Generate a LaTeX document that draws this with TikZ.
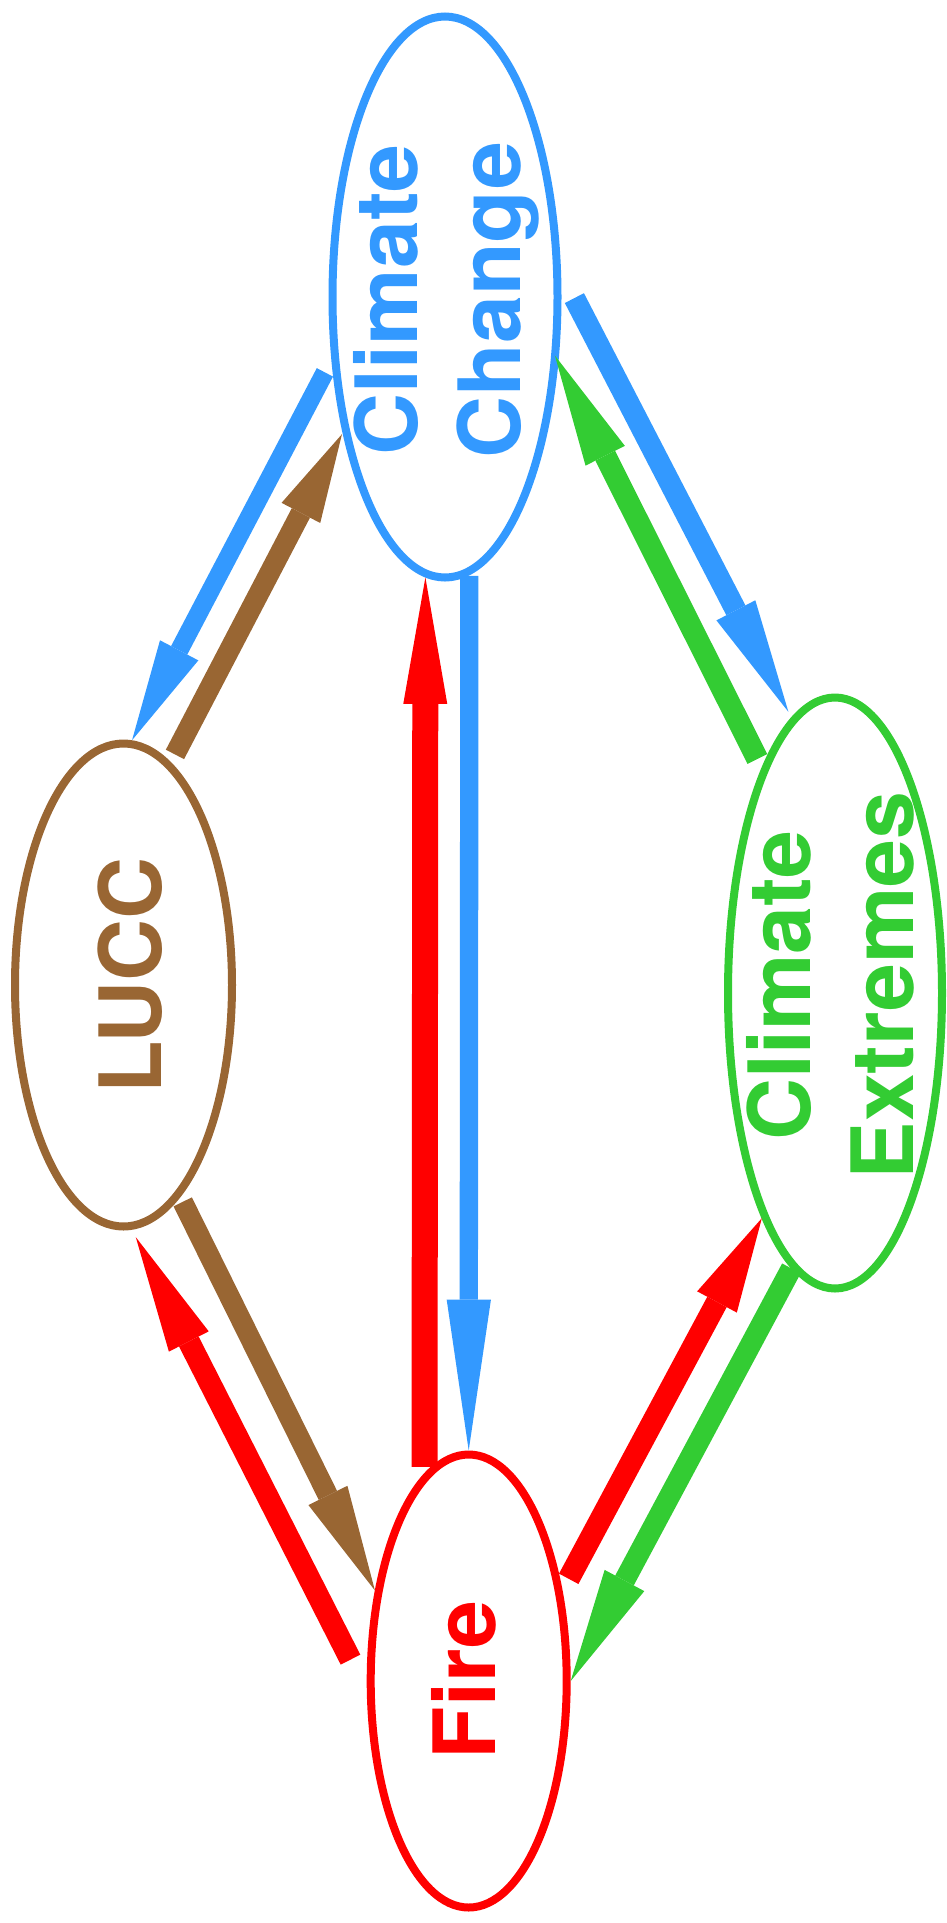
\documentclass[tikz,border=0pt]{standalone}
\usepackage{fontspec}
\setmainfont{TeX Gyre Heros}
\usetikzlibrary{shapes.geometric, arrows.meta}
\definecolor{ccblue}{HTML}{3399FF}
\definecolor{luccbrown}{HTML}{996633}
\definecolor{cegreen}{HTML}{33CC33}
\definecolor{firered}{HTML}{FF0000}
\tikzset{
  oval/.style={ellipse, draw, line width=8pt, inner sep=0pt},
  lbl/.style={rotate=90, align=center, inner sep=0pt,
    font=\fontsize{86pt}{103pt}\selectfont\bfseries},
  % shaft width, head length, head width
  flow/.style n args={3}{line width=#1,
    -{Triangle[length=#2, width=#3, line width=0pt]}},
}
\begin{document}
\begin{tikzpicture}[x=1pt, y=-1pt]
\useasboundingbox (0,0) rectangle (946,1923);

% the four ovals
\node[oval, draw=ccblue,    minimum width=225pt, minimum height=561pt] (cc)   at (445,297)    {};
\node[oval, draw=luccbrown, minimum width=217pt, minimum height=483pt] (lucc) at (123.5,985)  {};
\node[oval, draw=cegreen,   minimum width=214pt, minimum height=591pt] (ce)   at (835,993)    {};
\node[oval, draw=firered,   minimum width=196pt, minimum height=453pt] (fire) at (468.7,1681) {};

% labels, set upright along the ovals
\node[lbl, text=ccblue]    (cclabel)   at (446.5,300)   {Climate\\Change};
\node[lbl, text=cegreen]   (celabel)   at (830.5,985.5) {Climate\\Extremes};
\node[lbl, text=luccbrown] (lucclabel) at (130.5,975.5) {LUCC};
\node[lbl, text=firered]   (firelabel) at (464,1680)    {Fire};

% Fire <-> Climate Change
\draw[flow={26pt}{126.5pt}{44pt}, firered, shorten <=6.3pt] (fire.102.38) -- (cc.-94.4);
\draw[flow={18.3pt}{151pt}{44.3pt}, ccblue, shorten <=0.7pt] (cc.-85.06) -- (fire.90);

% Climate Change <-> LUCC
\draw[flow={18.3pt}{101.5pt}{43.3pt}, ccblue, shorten <=14pt] (cc.-151.25) -- (lucc.88.15);
\draw[flow={20.5pt}{88.8pt}{43.6pt}, luccbrown, shorten <=8.9pt, shorten >=1.5pt] (lucc.78.86) -- (cc.-127.16);

% Climate Change <-> Climate Extremes
\draw[flow={21.5pt}{114.3pt}{43.8pt}, ccblue, shorten <=29pt, shorten >=6.5pt] (cc.12.3) -- (ce.99.86);
\draw[flow={22pt}{112pt}{44pt}, cegreen, shorten <=9.9pt, shorten >=-7.6pt] (ce.108.52) -- (cc.-30.56);

% Fire <-> Climate Extremes
\draw[flow={22pt}{95pt}{45pt}, firered, shorten <=13.2pt] (fire.44.44) -- (ce.-108.43);
\draw[flow={21pt}{114pt}{45pt}, cegreen] (ce.-99.02) -- (fire.0);

% LUCC <-> Fire
\draw[flow={20.4pt}{106pt}{43.5pt}, luccbrown, shorten <=5.5pt] (lucc.-75.91) -- (fire.136.36);
\draw[flow={22pt}{117pt}{44.7pt}, firered, shorten <=36pt, shorten >=8.3pt] (fire.-174.48) -- (lucc.-88.08);
\end{tikzpicture}
\end{document}
